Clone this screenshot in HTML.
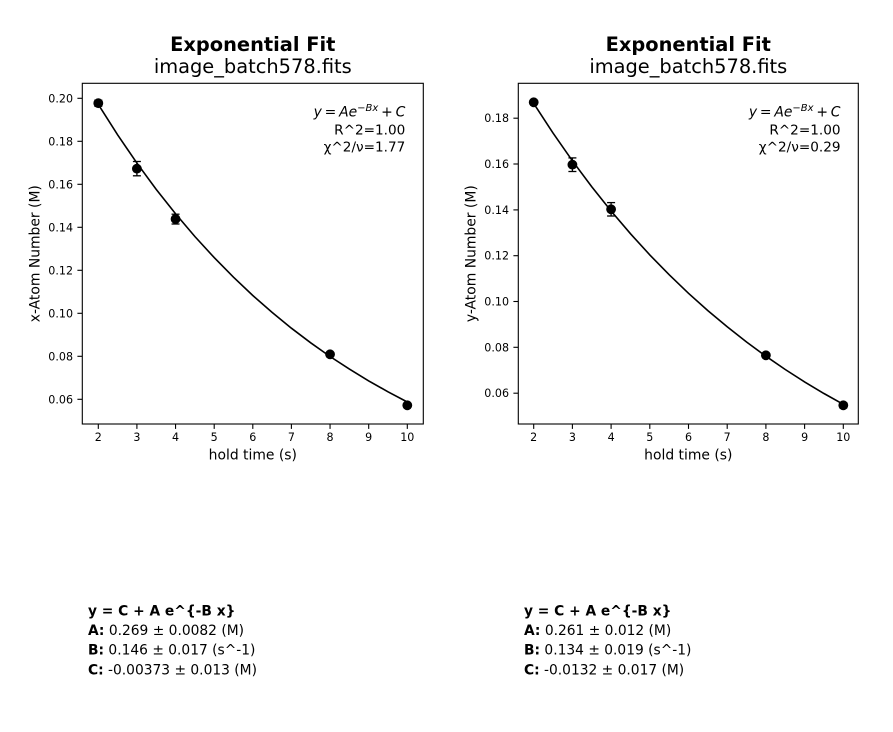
<!DOCTYPE html>
<html><head><meta charset="utf-8"><style>
html,body{margin:0;padding:0;background:#fff;}
svg{display:block;}
text{font-family:"DejaVu Sans","Liberation Sans",sans-serif;fill:#000;}
.tk{font-size:11.1px;}
</style></head><body>
<svg width="893" height="732" viewBox="0 0 893 732" xmlns="http://www.w3.org/2000/svg">
<rect width="893" height="732" fill="#fff"/>

<!-- ============ LEFT PLOT ============ -->
<text x="252.8" y="50.8" text-anchor="middle" font-size="19.4" font-weight="bold">Exponential Fit</text>
<text x="252.8" y="73" text-anchor="middle" font-size="19.4">image_batch578.fits</text>

<polyline fill="none" stroke="#000" stroke-width="1.6" points="98.3,104.4 117.6,134.8 136.9,163.1 156.2,189.4 175.55,213.8 194.86,236.5 214.2,257.6 233.5,277.2 252.8,295.5 272.1,312.4 291.4,328.2 310.7,342.8 330.05,356.5 349.4,369.1 368.7,380.9 388.0,391.8 407.3,402.0"/>
<g stroke="#000" stroke-width="1.3">
<line x1="98.3" y1="100.2" x2="98.3" y2="106.2"/><line x1="94.3" y1="100.2" x2="102.3" y2="100.2"/><line x1="94.3" y1="106.2" x2="102.3" y2="106.2"/>
<line x1="136.9" y1="161.5" x2="136.9" y2="175.8"/><line x1="132.9" y1="161.5" x2="140.9" y2="161.5"/><line x1="132.9" y1="175.8" x2="140.9" y2="175.8"/>
<line x1="175.55" y1="214.2" x2="175.55" y2="224"/><line x1="171.55" y1="214.2" x2="179.55" y2="214.2"/><line x1="171.55" y1="224" x2="179.55" y2="224"/>
<line x1="330.05" y1="352.3" x2="330.05" y2="356.3"/><line x1="326.05" y1="352.3" x2="334.05" y2="352.3"/><line x1="326.05" y1="356.3" x2="334.05" y2="356.3"/>
<line x1="407.3" y1="403.3" x2="407.3" y2="407.3"/><line x1="403.3" y1="403.3" x2="411.3" y2="403.3"/><line x1="403.3" y1="407.3" x2="411.3" y2="407.3"/>
</g>
<g fill="#000">
<circle cx="98.3" cy="103.2" r="4.9"/>
<circle cx="136.9" cy="168.7" r="4.9"/>
<circle cx="175.55" cy="219" r="4.9"/>
<circle cx="330.05" cy="354.3" r="4.9"/>
<circle cx="407.3" cy="405.3" r="4.9"/>
</g>

<rect x="82.3" y="83.3" width="341" height="340.7" fill="none" stroke="#000" stroke-width="1.1"/>
<g stroke="#000" stroke-width="1.1">
<line x1="98.3" y1="424" x2="98.3" y2="428.9"/>
<line x1="136.9" y1="424" x2="136.9" y2="428.9"/>
<line x1="175.55" y1="424" x2="175.55" y2="428.9"/>
<line x1="214.2" y1="424" x2="214.2" y2="428.9"/>
<line x1="252.8" y1="424" x2="252.8" y2="428.9"/>
<line x1="291.4" y1="424" x2="291.4" y2="428.9"/>
<line x1="330.05" y1="424" x2="330.05" y2="428.9"/>
<line x1="368.7" y1="424" x2="368.7" y2="428.9"/>
<line x1="407.3" y1="424" x2="407.3" y2="428.9"/>
</g>
<g class="tk" text-anchor="middle">
<text x="98.3" y="441">2</text><text x="136.9" y="441">3</text><text x="175.55" y="441">4</text>
<text x="214.2" y="441">5</text><text x="252.8" y="441">6</text><text x="291.4" y="441">7</text>
<text x="330.05" y="441">8</text><text x="368.7" y="441">9</text><text x="407.3" y="441">10</text>
</g>
<g stroke="#000" stroke-width="1.1">
<line x1="77.4" y1="98.3" x2="82.3" y2="98.3"/>
<line x1="77.4" y1="141.3" x2="82.3" y2="141.3"/>
<line x1="77.4" y1="184.3" x2="82.3" y2="184.3"/>
<line x1="77.4" y1="227.3" x2="82.3" y2="227.3"/>
<line x1="77.4" y1="270.3" x2="82.3" y2="270.3"/>
<line x1="77.4" y1="313.3" x2="82.3" y2="313.3"/>
<line x1="77.4" y1="356.3" x2="82.3" y2="356.3"/>
<line x1="77.4" y1="399.3" x2="82.3" y2="399.3"/>
</g>
<g class="tk" text-anchor="end">
<text x="73" y="102.3">0.20</text><text x="73" y="145.3">0.18</text><text x="73" y="188.3">0.16</text>
<text x="73" y="231.3">0.14</text><text x="73" y="274.3">0.12</text><text x="73" y="317.3">0.10</text>
<text x="73" y="360.3">0.08</text><text x="73" y="403.3">0.06</text>
</g>
<text x="252.8" y="459.5" text-anchor="middle" font-size="13.9">hold time (s)</text>
<text transform="translate(39.5,253.7) rotate(-90)" text-anchor="middle" font-size="13.9">x-Atom Number (M)</text>

<text x="405.3" y="116.5" text-anchor="end" font-size="13.9"><tspan font-style="italic">y</tspan><tspan dx="2.8">=</tspan><tspan dx="2.8" font-style="italic">Ae</tspan><tspan font-style="italic" font-size="10" dy="-5.5">−Bx</tspan><tspan dy="5.5" dx="2.8">+</tspan><tspan dx="2.8" font-style="italic">C</tspan></text>
<text x="405.3" y="134.5" text-anchor="end" font-size="13.6">R^2=1.00</text>
<text x="405.3" y="151.7" text-anchor="end" font-size="13.6">χ^2/ν=1.77</text>

<!-- ============ RIGHT PLOT ============ -->
<text x="688.3" y="50.8" text-anchor="middle" font-size="19.4" font-weight="bold">Exponential Fit</text>
<text x="688.3" y="73" text-anchor="middle" font-size="19.4">image_batch578.fits</text>

<polyline fill="none" stroke="#000" stroke-width="1.6" points="533.7,103.4 553.05,133.1 572.4,160.8 591.75,186.7 611.1,211.0 630.45,233.7 649.8,254.9 669.15,274.7 688.5,293.3 707.85,310.6 727.2,326.8 746.55,342.0 765.9,356.2 785.25,369.5 804.6,381.9 823.95,393.5 843.3,404.3"/>
<g stroke="#000" stroke-width="1.3">
<line x1="533.7" y1="100.3" x2="533.7" y2="104.3"/><line x1="529.7" y1="100.3" x2="537.7" y2="100.3"/><line x1="529.7" y1="104.3" x2="537.7" y2="104.3"/>
<line x1="572.4" y1="157.9" x2="572.4" y2="171.5"/><line x1="568.4" y1="157.9" x2="576.4" y2="157.9"/><line x1="568.4" y1="171.5" x2="576.4" y2="171.5"/>
<line x1="611.1" y1="202.6" x2="611.1" y2="216"/><line x1="607.1" y1="202.6" x2="615.1" y2="202.6"/><line x1="607.1" y1="216" x2="615.1" y2="216"/>
<line x1="765.9" y1="353.3" x2="765.9" y2="357.3"/><line x1="761.9" y1="353.3" x2="769.9" y2="353.3"/><line x1="761.9" y1="357.3" x2="769.9" y2="357.3"/>
<line x1="843.3" y1="402.8" x2="843.3" y2="407.8"/><line x1="839.3" y1="402.8" x2="847.3" y2="402.8"/><line x1="839.3" y1="407.8" x2="847.3" y2="407.8"/>
</g>
<g fill="#000">
<circle cx="533.7" cy="102.3" r="4.9"/>
<circle cx="572.4" cy="164.7" r="4.9"/>
<circle cx="611.1" cy="209.3" r="4.9"/>
<circle cx="765.9" cy="355.3" r="4.9"/>
<circle cx="843.3" cy="405.3" r="4.9"/>
</g>

<rect x="518.3" y="83.3" width="340" height="340.7" fill="none" stroke="#000" stroke-width="1.1"/>
<g stroke="#000" stroke-width="1.1">
<line x1="533.7" y1="424" x2="533.7" y2="428.9"/>
<line x1="572.4" y1="424" x2="572.4" y2="428.9"/>
<line x1="611.1" y1="424" x2="611.1" y2="428.9"/>
<line x1="649.8" y1="424" x2="649.8" y2="428.9"/>
<line x1="688.5" y1="424" x2="688.5" y2="428.9"/>
<line x1="727.2" y1="424" x2="727.2" y2="428.9"/>
<line x1="765.9" y1="424" x2="765.9" y2="428.9"/>
<line x1="804.6" y1="424" x2="804.6" y2="428.9"/>
<line x1="843.3" y1="424" x2="843.3" y2="428.9"/>
</g>
<g class="tk" text-anchor="middle">
<text x="533.7" y="441">2</text><text x="572.4" y="441">3</text><text x="611.1" y="441">4</text>
<text x="649.8" y="441">5</text><text x="688.5" y="441">6</text><text x="727.2" y="441">7</text>
<text x="765.9" y="441">8</text><text x="804.6" y="441">9</text><text x="843.3" y="441">10</text>
</g>
<g stroke="#000" stroke-width="1.1">
<line x1="513.4" y1="118.2" x2="518.3" y2="118.2"/>
<line x1="513.4" y1="164.0" x2="518.3" y2="164.0"/>
<line x1="513.4" y1="209.9" x2="518.3" y2="209.9"/>
<line x1="513.4" y1="255.7" x2="518.3" y2="255.7"/>
<line x1="513.4" y1="301.5" x2="518.3" y2="301.5"/>
<line x1="513.4" y1="347.3" x2="518.3" y2="347.3"/>
<line x1="513.4" y1="393.2" x2="518.3" y2="393.2"/>
</g>
<g class="tk" text-anchor="end">
<text x="509" y="122.2">0.18</text><text x="509" y="168">0.16</text><text x="509" y="213.9">0.14</text>
<text x="509" y="259.7">0.12</text><text x="509" y="305.5">0.10</text><text x="509" y="351.3">0.08</text>
<text x="509" y="397.2">0.06</text>
</g>
<text x="688.3" y="459.5" text-anchor="middle" font-size="13.9">hold time (s)</text>
<text transform="translate(475.5,253.7) rotate(-90)" text-anchor="middle" font-size="13.9">y-Atom Number (M)</text>

<text x="840.5" y="116.5" text-anchor="end" font-size="13.9"><tspan font-style="italic">y</tspan><tspan dx="2.8">=</tspan><tspan dx="2.8" font-style="italic">Ae</tspan><tspan font-style="italic" font-size="10" dy="-5.5">−Bx</tspan><tspan dy="5.5" dx="2.8">+</tspan><tspan dx="2.8" font-style="italic">C</tspan></text>
<text x="840.5" y="134.5" text-anchor="end" font-size="13.6">R^2=1.00</text>
<text x="840.5" y="151.7" text-anchor="end" font-size="13.6">χ^2/ν=0.29</text>

<!-- ============ BOTTOM TEXT ============ -->
<g font-size="13.8">
<text x="88" y="615.5" font-weight="bold">y = C + A e^{-B x}</text>
<text x="88" y="635"><tspan font-weight="bold">A:</tspan> 0.269 ± 0.0082 (M)</text>
<text x="88" y="654.6"><tspan font-weight="bold">B:</tspan> 0.146 ± 0.017 (s^-1)</text>
<text x="88" y="674.3"><tspan font-weight="bold">C:</tspan> -0.00373 ± 0.013 (M)</text>

<text x="524" y="615.5" font-weight="bold">y = C + A e^{-B x}</text>
<text x="524" y="635"><tspan font-weight="bold">A:</tspan> 0.261 ± 0.012 (M)</text>
<text x="524" y="654.6"><tspan font-weight="bold">B:</tspan> 0.134 ± 0.019 (s^-1)</text>
<text x="524" y="674.3"><tspan font-weight="bold">C:</tspan> -0.0132 ± 0.017 (M)</text>
</g>
</svg>
</body></html>
